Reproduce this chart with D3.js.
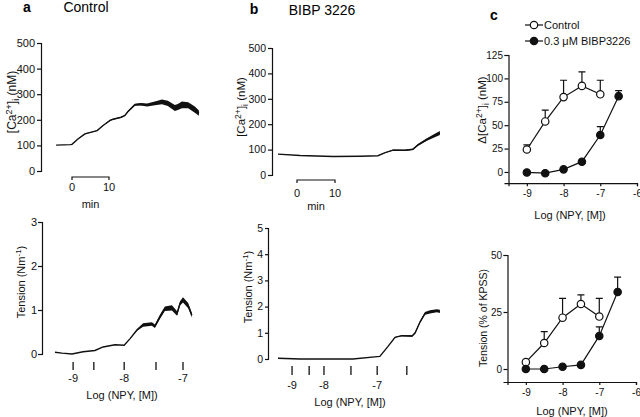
<!DOCTYPE html>
<html><head><meta charset="utf-8">
<script src="https://cdn.jsdelivr.net/npm/d3@7"></script>
<style>
body{margin:0;background:#fff;}
svg{display:block;font-family:"Liberation Sans",Arial,Helvetica,sans-serif;}
</style></head><body>
<svg id="chart" width="640" height="417"></svg>
<script>
// ---------- DATA ----------
// Traces: [time (min, relative to scale bar 0), value, half-width of visible noise]
const caTraceControl = [
  [-4.3,101,0],[-0.5,103,0],[0,104,0],[1.6,125,1],[3.5,145,1],[6.8,158,1],[8.4,178,1],
  [10.3,198,2],[11.1,202,2],[13.3,210,2],[14.3,217,2],[15.1,232,3],[17.0,259,4],
  [18.6,261,5],[20.3,258,6],[22.4,264,7],[24.3,270,9],[25.9,264,10],[27.8,246,12],
  [28.6,250,12],[29.7,258,13],[31.4,257,12],[33.2,240,12],[34.3,226,10]
];
const tensionTraceControl = [
  [-4.6,0.04,0],[-2.7,0.02,0],[0,0.0,0],[3.0,0.05,0],[6.2,0.08,0],[8.4,0.16,0],
  [11.6,0.21,0],[14.1,0.2,0],[15.7,0.35,0],[17.6,0.55,0.02],[19.2,0.66,0.04],
  [21.6,0.68,0.04],[22.4,0.63,0.04],[23.8,0.85,0.05],[25.1,1.03,0.05],[27.0,1.05,0.06],
  [28.4,0.92,0.05],[29.2,1.15,0.05],[30.0,1.23,0.06],[31.4,1.1,0.06],[32.4,0.88,0.05]
];
const caTraceBIBP = [
  [-5.0,82,0],[0.8,77,0],[9.5,73,0],[16.6,74,0],[21.3,76,0],[23.2,88,1],[25.3,98,2],
  [28.4,97,3],[30.5,101,3],[31.8,118,4],[34.2,140,5],[35.8,152,6],[37.6,165,8]
];
const tensionTraceBIBP = [
  [-5.0,0.03,0],[0.8,0.0,0],[14.7,0.0,0],[21.1,0.09,0],[21.8,0.1,0],[23.9,0.47,0],
  [25.8,0.83,0.01],[27.6,0.89,0.02],[30.3,0.88,0.03],[31.1,1.0,0.03],[32.4,1.42,0.04],
  [33.7,1.74,0.05],[35.0,1.8,0.06],[36.8,1.84,0.06],[37.6,1.82,0.06]
];
// NPY additions (time, min) and labels
const doseTimesControl = [0.3, 5.9, 14.1, 22.7, 30.0];
const doseLabelsControl = ["-9", "", "-8", "", "-7"];
const doseTimesBIBP = [-1.3, 3.2, 7.1, 14.2, 21.1, 28.9];
const doseLabelsBIBP = ["-9", "", "-8", "", "-7", ""];

// Panel c: concentration-response
const logNPY = [-9, -8.5, -8, -7.5, -7, -6.5];
const caControlMean = [24, 54, 80, 92, 83];
const caControlErr  = [5, 12, 18, 15, 15];
const caBIBPMean = [-0.5, -1.3, 2.8, 11, 39.5, 81];
const caBIBPErr  = [0, 0, 0, 0, 9, 6];
const tenControlMean = [3, 11.4, 22.5, 28.5, 23];
const tenControlErr  = [0, 5, 8.5, 4, 8];
const tenBIBPMean = [0, 0, 1, 1.8, 14.5, 33.8];
const tenBIBPErr  = [0, 0, 0, 0, 4, 6.5];

const caTicks = [0,100,200,300,400,500];
const tenTicksA = [0,1,2,3];
const tenTicksB = [0,1,2,3,4,5];
const cCaTicks = [0,25,50,75,100,125];
const cTenTicks = [0,25,50];
const cXTicks = [-9,-8,-7,-6];

// ---------- DRAW ----------
const svg = d3.select("#chart");
const FONT = '"Liberation Sans",Arial,Helvetica,sans-serif';

function styleAxis(g, size) {
  g.attr("font-family", FONT).attr("font-size", size || 11);
  g.selectAll("path,line").attr("stroke", "#111").attr("stroke-width", 1.2);
  g.selectAll("text").attr("fill", "#111");
}
function yAxis(scale, x, ticks, tick, pad, size) {
  const g = svg.append("g").attr("transform", `translate(${x},0)`)
    .call(d3.axisLeft(scale).tickValues(ticks).tickSizeOuter(0).tickSize(tick).tickPadding(pad).tickFormat(d => String(d)));
  styleAxis(g, size);
  return g;
}
function caLabel(x, y, prefix, size) {
  size = size || 12;
  const t = svg.append("text").attr("transform", `translate(${x},${y}) rotate(-90)`)
    .attr("text-anchor", "middle").attr("font-size", size).attr("fill", "#111");
  t.append("tspan").text((prefix || "") + "[Ca");
  t.append("tspan").attr("dy", -4).attr("font-size", size * 0.75).text("2+");
  t.append("tspan").attr("dy", 4).text("]");
  t.append("tspan").attr("dy", 3).attr("font-size", size * 0.75).text("i");
  t.append("tspan").attr("dy", -3).text(" (nM)");
}
function tensionLabel(x, y) {
  const t = svg.append("text").attr("transform", `translate(${x},${y}) rotate(-90)`)
    .attr("text-anchor", "middle").attr("font-size", 11).attr("fill", "#111");
  t.append("tspan").text("Tension (Nm");
  t.append("tspan").attr("dy", -4).attr("font-size", 8).text("-1");
  t.append("tspan").attr("dy", 4).text(")");
}
function trace(data, x, y) {
  svg.append("path").datum(data)
    .attr("d", d3.area().x(d => x(d[0])).y0(d => y(d[1] - d[2])).y1(d => y(d[1] + d[2])))
    .attr("fill", "#111");
  svg.append("path").datum(data)
    .attr("d", d3.line().x(d => x(d[0])).y(d => y(d[1])))
    .attr("fill", "none").attr("stroke", "#111").attr("stroke-width", 1.4);
}
function scaleBar(x, yLine, yNum, yMin) {
  svg.append("path")
    .attr("d", `M${x(0)},${yLine + 3}V${yLine}H${x(10)}V${yLine + 3}`)
    .attr("fill", "none").attr("stroke", "#111").attr("stroke-width", 1.2);
  [0, 10].forEach(v => svg.append("text").attr("x", x(v)).attr("y", yNum)
    .attr("text-anchor", "middle").attr("font-size", 11).attr("fill", "#111").text(v));
  svg.append("text").attr("x", (x(0) + x(10)) / 2).attr("y", yMin)
    .attr("text-anchor", "middle").attr("font-size", 11).attr("fill", "#111").text("min");
}
function doses(times, labels, x, y0, y1, yLab, yTitle, titleX) {
  times.forEach((t, i) => {
    svg.append("line").attr("x1", x(t)).attr("x2", x(t)).attr("y1", y0).attr("y2", y1)
      .attr("stroke", "#111").attr("stroke-width", 1.3);
    if (labels[i]) svg.append("text").attr("x", x(t)).attr("y", yLab)
      .attr("text-anchor", "middle").attr("font-size", 11).attr("fill", "#111").text(labels[i]);
  });
  svg.append("text").attr("x", titleX).attr("y", yTitle).attr("text-anchor", "middle")
    .attr("font-size", 11).attr("fill", "#111").text("Log (NPY, [M])");
}

// ---- Panel a ----
svg.append("text").attr("x", 27).attr("y", 12).attr("text-anchor", "middle")
  .attr("font-weight", "bold").attr("font-size", 14).text("a");
svg.append("text").attr("x", 86).attr("y", 12).attr("text-anchor", "middle")
  .attr("font-size", 14).text("Control");

const xA = d3.scaleLinear().domain([0, 10]).range([72, 109]);
const yACa = d3.scaleLinear().domain([0, 500]).range([171, 43]);
yAxis(yACa, 41, caTicks, 4, 2);
caLabel(16, 102);
trace(caTraceControl, xA, yACa);
scaleBar(xA, 177, 191, 208);

const yATen = d3.scaleLinear().domain([0, 3]).range([354, 222]);
yAxis(yATen, 42, tenTicksA, 4, 1);
tensionLabel(25, 282);
trace(tensionTraceControl, xA, yATen);
doses(doseTimesControl, doseLabelsControl, xA, 362, 370, 382, 399, 122);

// ---- Panel b ----
svg.append("text").attr("x", 254).attr("y", 14).attr("text-anchor", "middle")
  .attr("font-weight", "bold").attr("font-size", 14).text("b");
svg.append("text").attr("x", 322).attr("y", 15).attr("text-anchor", "middle")
  .attr("font-size", 14).text("BIBP 3226");

const xB = d3.scaleLinear().domain([0, 10]).range([297, 335]);
const yBCa = d3.scaleLinear().domain([0, 500]).range([175, 48]);
yAxis(yBCa, 272, caTicks, 4, 2, 10.5);
caLabel(245, 107, "", 11.5);
trace(caTraceBIBP, xB, yBCa);
scaleBar(xB, 180, 197, 210);

const yBTen = d3.scaleLinear().domain([0, 5]).range([359, 228]);
yAxis(yBTen, 268, tenTicksB, 3, 2, 10.5);
tensionLabel(252, 287);
trace(tensionTraceBIBP, xB, yBTen);
doses(doseTimesBIBP, doseLabelsBIBP, xB, 366, 375, 389, 406, 350);

// ---- Panel c ----
svg.append("text").attr("x", 494).attr("y", 20).attr("text-anchor", "middle")
  .attr("font-weight", "bold").attr("font-size", 14).text("c");

function crcPanel(xs, ys, ctrlMean, ctrlErr, bMean, bErr, yTicks, axisY, axisX, titleX, titleY) {
  const gx = svg.append("g").attr("transform", `translate(0,${axisY})`)
    .call(d3.axisBottom(xs).tickValues(cXTicks).tickSizeOuter(0).tickSize(3).tickPadding(4).tickFormat(d => String(d)));
  styleAxis(gx, 10);
  const gy = svg.append("g").attr("transform", `translate(${axisX},0)`)
    .call(d3.axisLeft(ys).tickValues(yTicks).tickSizeOuter(0).tickSize(4).tickPadding(1.5).tickFormat(d => String(d)));
  styleAxis(gy, 10);
  svg.append("text").attr("x", titleX).attr("y", titleY)
    .attr("text-anchor", "middle").attr("font-size", 11).attr("fill", "#111").text("Log (NPY, [M])");

  const series = [
    {mean: ctrlMean, err: ctrlErr, fill: "#fff"},
    {mean: bMean, err: bErr, fill: "#111"}
  ];
  series.forEach(s => {
    const pts = s.mean.map((m, i) => ({x: logNPY[i], y: m, e: s.err[i]}));
    pts.filter(p => p.e > 0).forEach(p => {
      svg.append("path")
        .attr("d", `M${xs(p.x)},${ys(p.y)}V${ys(p.y + p.e)}M${xs(p.x) - 3.5},${ys(p.y + p.e)}H${xs(p.x) + 3.5}`)
        .attr("stroke", "#111").attr("stroke-width", 1.2).attr("fill", "none");
    });
    svg.append("path").datum(pts)
      .attr("d", d3.line().x(p => xs(p.x)).y(p => ys(p.y)))
      .attr("fill", "none").attr("stroke", "#111").attr("stroke-width", 1.2);
    svg.selectAll(null).data(pts).enter().append("circle")
      .attr("cx", p => xs(p.x)).attr("cy", p => ys(p.y)).attr("r", 3.7)
      .attr("fill", s.fill).attr("stroke", "#111").attr("stroke-width", 1.2);
  });
}

const xC1 = d3.scaleLinear().domain([-9.5, -6]).range([508.5, 637]);
const yC1 = d3.scaleLinear().domain([-12, 125]).range([183.2, 55]);
crcPanel(xC1, yC1, caControlMean, caControlErr, caBIBPMean, caBIBPErr, cCaTicks, 183.2, 508.5, 570, 219);
caLabel(486, 110, "Δ", 11.5);

const xC2 = d3.scaleLinear().domain([-9.5, -6]).range([507.5, 636]);
const yC2 = d3.scaleLinear().domain([-5.7, 50]).range([382, 255]);
crcPanel(xC2, yC2, tenControlMean, tenControlErr, tenBIBPMean, tenBIBPErr, cTenTicks, 382, 507.5, 572, 415);
svg.append("text").attr("transform", "translate(487,318) rotate(-90)")
  .attr("text-anchor", "middle").attr("font-size", 10.5).attr("fill", "#111").text("Tension (% of KPSS)");

// legend
const legend = [{label: "Control", fill: "#fff", y: 25}, {label: "0.3 μM BIBP3226", fill: "#111", y: 41}];
legend.forEach(l => {
  svg.append("line").attr("x1", 525).attr("x2", 543).attr("y1", l.y).attr("y2", l.y)
    .attr("stroke", "#111").attr("stroke-width", 1.2);
  svg.append("circle").attr("cx", 534).attr("cy", l.y).attr("r", 3.7)
    .attr("fill", l.fill).attr("stroke", "#111").attr("stroke-width", 1.2);
  svg.append("text").attr("x", 544).attr("y", l.y + 4).attr("font-size", 11).attr("fill", "#111").text(l.label);
});
</script>
</body></html>
